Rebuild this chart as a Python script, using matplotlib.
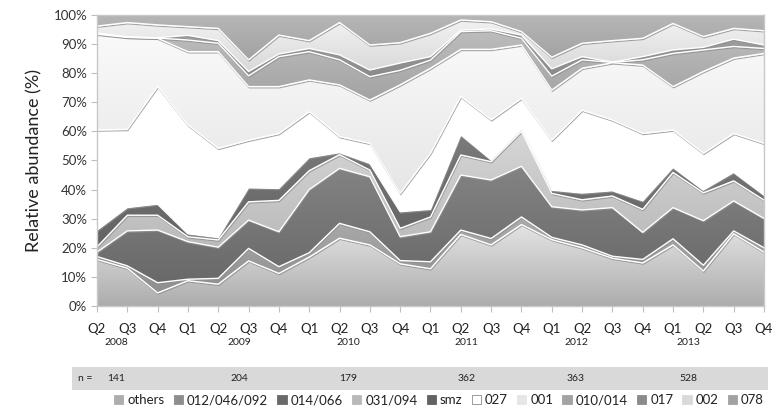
import numpy as np
import matplotlib
matplotlib.use("Agg")
import matplotlib.pyplot as plt
import matplotlib.transforms as mtransforms
from matplotlib.colors import LinearSegmentedColormap
from matplotlib.patches import Patch

plt.rcParams['font.family'] = ['Lato', 'DejaVu Sans']

quarters = ['Q2', 'Q3', 'Q4',
            'Q1', 'Q2', 'Q3', 'Q4',
            'Q1', 'Q2', 'Q3', 'Q4',
            'Q1', 'Q2', 'Q3', 'Q4',
            'Q1', 'Q2', 'Q3', 'Q4',
            'Q1', 'Q2', 'Q3', 'Q4']
years = ['2008', '2009', '2010', '2011', '2012', '2013']
year_pos = [0.63, 4.7, 8.3, 12.2, 15.8, 19.5]
n_counts = ['141', '204', '179', '362', '363', '528']

# relative abundance per quarter (%), bottom to top of the stack
others = [16.0, 13.0, 4.5, 8.7, 7.5, 15.5, 11.2, 16.8, 23.3, 21.0, 14.5, 12.8,
          24.6, 21.0, 28.0, 22.8, 20.0, 16.4, 14.8, 21.0, 12.0, 24.8, 18.5]
s012_046_092 = [1.0, 0.8, 3.5, 0.5, 2.0, 4.3, 2.3, 1.5, 5.1, 4.5, 1.1, 2.4,
                1.5, 2.2, 2.6, 0.8, 1.0, 0.7, 1.2, 2.1, 2.0, 1.0, 1.5]
s014_066 = [1.5, 12.0, 18.1, 12.9, 10.7, 9.7, 12.0, 21.7, 18.9, 18.9, 8.2, 10.3,
            18.9, 20.1, 17.4, 10.5, 12.0, 16.7, 9.3, 10.7, 15.3, 10.3, 10.1]
s031_094 = [1.8, 5.4, 5.1, 1.7, 2.5, 6.3, 10.8, 6.5, 4.7, 2.3, 2.9, 5.1,
            6.9, 6.3, 12.0, 4.6, 3.5, 4.0, 7.9, 12.1, 9.6, 6.9, 6.3]
smz = [5.7, 2.6, 3.8, 1.0, 0.8, 4.8, 4.1, 4.5, 0.7, 2.3, 5.7, 2.6,
       6.9, 0.6, 0.7, 1.1, 2.3, 1.8, 2.9, 1.7, 0.9, 2.9, 1.7]
s027 = [34.5, 26.9, 40.4, 37.4, 30.7, 16.4, 18.9, 15.8, 5.5, 6.9, 6.3, 19.3,
        13.2, 13.8, 10.7, 17.2, 28.5, 24.3, 23.2, 12.9, 12.7, 13.4, 17.8]
s001 = [32.9, 31.6, 16.6, 25.2, 33.2, 18.4, 16.1, 10.9, 17.8, 14.9, 37.3, 29.2,
        16.2, 24.2, 18.3, 17.2, 14.4, 19.7, 23.5, 14.9, 28.1, 25.9, 30.9]
s010_014 = [0.2, 0.1, 0.1, 4.0, 2.9, 3.7, 10.3, 9.7, 8.6, 8.0, 5.0, 2.8,
            6.1, 6.4, 2.3, 4.8, 2.9, 0.1, 1.8, 11.4, 7.4, 4.0, 1.7]
s017 = [0.2, 0.1, 0.1, 1.6, 0.9, 1.5, 0.9, 1.1, 1.7, 2.3, 2.5, 1.2,
        0.5, 0.6, 1.1, 2.5, 1.1, 0.1, 1.1, 1.2, 0.9, 2.5, 1.2]
s002 = [2.4, 4.9, 4.4, 3.0, 4.2, 4.0, 6.5, 2.7, 11.1, 8.6, 7.0, 8.0,
        3.5, 2.5, 1.2, 4.0, 4.6, 7.4, 6.3, 9.1, 3.7, 3.7, 4.9]
s078 = [3.8, 2.6, 3.4, 4.0, 4.6, 15.4, 6.9, 8.8, 2.6, 10.3, 9.5, 6.3,
        1.7, 2.3, 5.7, 14.5, 9.7, 8.8, 8.0, 2.9, 7.4, 4.6, 5.4]

labels = ['others', '012/046/092', '014/066', '031/094', 'smz', '027',
          '001', '010/014', '017', '002', '078']
series = [others, s012_046_092, s014_066, s031_094, smz, s027,
          s001, s010_014, s017, s002, s078]
# (top colour, bottom colour) for each band's vertical gradient
shades = [('#e4e4e4', '#adadad'),
          ('#ababab', '#8e8e8e'),
          ('#838383', '#696969'),
          ('#d6d6d6', '#b9b9b9'),
          ('#7c7c7c', '#626262'),
          ('#ffffff', '#ffffff'),
          ('#fafafa', '#e6e6e6'),
          ('#bdbdbd', '#a3a3a3'),
          ('#a2a2a2', '#8a8a8a'),
          ('#f2f2f2', '#d9d9d9'),
          ('#b6b6b6', '#a2a2a2')]

x = np.arange(len(quarters))

fig = plt.figure(figsize=(7.84, 4.11), dpi=100)
ax = fig.add_axes([0.1237, 0.2555, 0.8508, 0.708])

polys = ax.stackplot(x, *series, colors=[s[1] for s in shades],
                     edgecolor='none', linewidth=0, zorder=2)

# replace the flat fills with gradients clipped to each band
ramp = np.linspace(0, 1, 256).reshape(-1, 1)
for poly, (top, bot) in zip(polys, shades):
    path = poly.get_paths()[0]
    ys = path.vertices[:, 1]
    cmap = LinearSegmentedColormap.from_list('band', [bot, top])
    im = ax.imshow(ramp, extent=[x[0], x[-1], ys.min(), ys.max()],
                   origin='lower', aspect='auto', cmap=cmap, zorder=1,
                   interpolation='bilinear')
    im.set_clip_path(path, ax.transData)
    poly.set_facecolor('none')

# soft shadow + white highlight along every band boundary
cum = np.cumsum(np.array(series), axis=0)
shadow = mtransforms.offset_copy(ax.transData, fig=fig, x=0.6, y=-1.3, units='dots')
for row in cum[:-1]:
    ax.plot(x, row, color='#8f8f8f', lw=0.8, alpha=0.8, transform=shadow,
            zorder=3, solid_joinstyle='round')
    ax.plot(x, row, color='white', lw=1.0, zorder=4, solid_joinstyle='round')

ax.set_xlim(x[0], x[-1])
ax.set_ylim(0, 100)
ax.set_yticks(np.arange(0, 101, 10))
ax.set_yticklabels([f'{v}%' for v in range(0, 101, 10)])
ax.set_xticks(x)
ax.set_xticklabels(quarters)
ax.tick_params(axis='y', length=4, color='#bfbfbf', labelsize=9.5,
               labelcolor='#333333', pad=3)
ax.tick_params(axis='x', length=4, color='#bfbfbf', labelsize=9.5,
               labelcolor='#222222', pad=8)
for side in ax.spines.values():
    side.set_color('#c8c8c8')
    side.set_linewidth(1.0)
    side.set_zorder(5)

ax.set_ylabel('Relative abundance (%)', fontsize=13, color='#222222', labelpad=8)

# year labels under the quarters
for pos, yr in zip(year_pos, years):
    ax.text(pos, -0.125, yr, transform=ax.get_xaxis_transform(),
            ha='center', va='center', fontsize=7.5, color='#222222')

# sample-size strip
fig.patches.append(plt.Rectangle((72 / 784, 1 - 390 / 411), 696 / 784, 23 / 411,
                                 transform=fig.transFigure, facecolor='#d9d9d9',
                                 edgecolor='none'))
fig.text(85 / 784, 1 - 378 / 411, 'n =', ha='center', va='center',
         fontsize=7.5, color='#222222')
for pos, n in zip(year_pos, n_counts):
    fx = ax.transData.transform((pos, 0))[0] / fig.bbox.width
    fig.text(fx, 1 - 378 / 411, n, ha='center', va='center',
             fontsize=7.5, color='#222222')

handles = []
for lab, (top, bot) in zip(labels, shades):
    edge = '#8c8c8c' if lab == '027' else bot
    handles.append(Patch(facecolor=bot, edgecolor=edge, linewidth=0.6, label=lab))
fig.legend(handles=handles, loc='center', bbox_to_anchor=(0.56, 1 - 400 / 411),
           ncol=len(labels), frameon=False, fontsize=9.5, handlelength=0.7,
           handleheight=0.7, handletextpad=0.3, columnspacing=0.7,
           labelcolor='#222222')

fig.savefig('out.png', dpi=100)
